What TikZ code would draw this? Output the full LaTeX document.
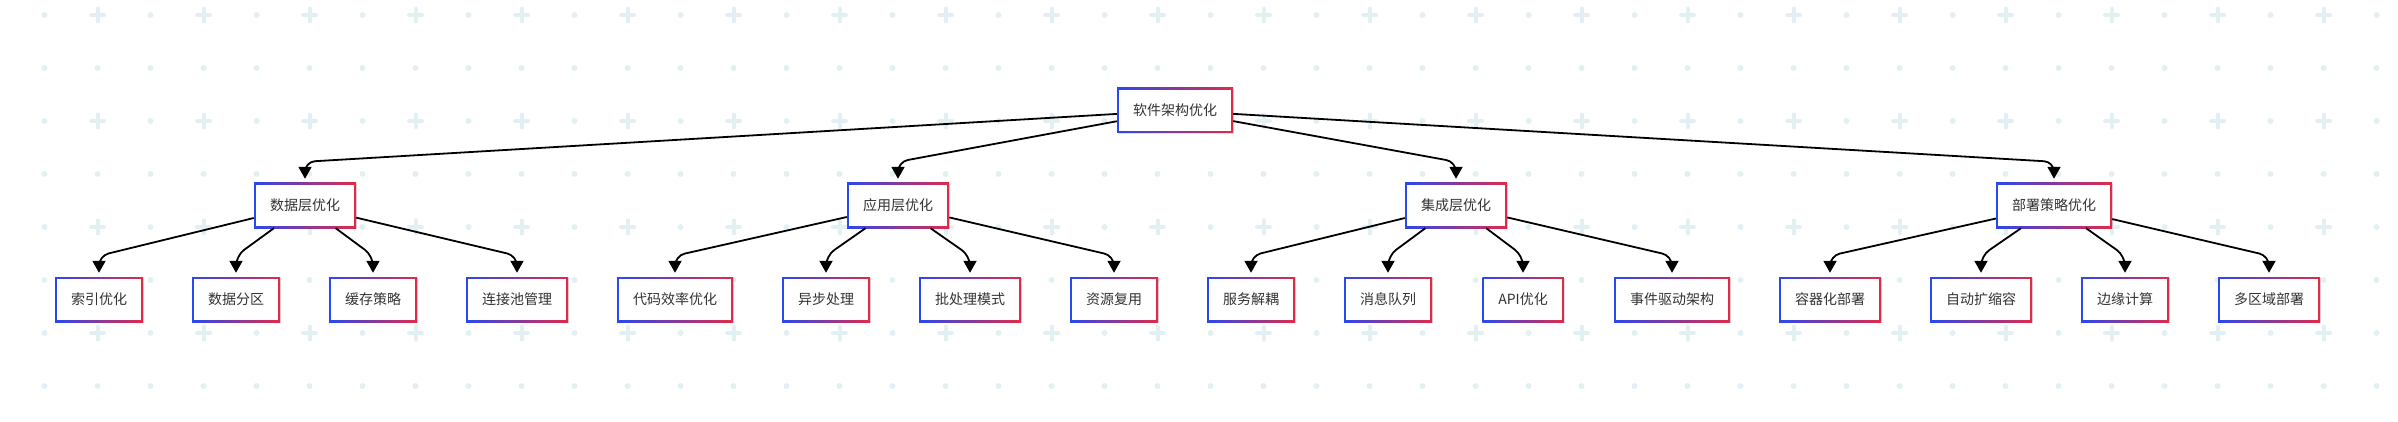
\documentclass[tikz,border=0pt]{standalone}
\usepackage{fontspec}
\setmainfont{Noto Sans CJK SC}
\usepackage{tikz}
\usetikzlibrary{arrows.meta,shadows}
\definecolor{bordL}{RGB}{40,72,240}
\definecolor{bordR}{RGB}{226,42,72}
\definecolor{bgdot}{RGB}{226,239,243}
\definecolor{txt}{RGB}{51,51,51}
\tikzset{every picture/.style={/utils/exec={\fontsize{14pt}{16pt}\selectfont}}}
\tikzset{
  optbox/.style={fill=white, text=txt, minimum height=45pt, inner xsep=16pt, inner ysep=0pt,
    drop shadow={shadow xshift=1pt, shadow yshift=-1pt, opacity=0.12, fill=black},
    path picture={
      \shade[left color=bordL, right color=bordR]
        (path picture bounding box.south west) rectangle (path picture bounding box.north east);
      \fill[white] ([shift={(2pt,2pt)}]path picture bounding box.south west)
        rectangle ([shift={(-2pt,-2pt)}]path picture bounding box.north east);
    }},
  flow/.style={line width=1.8pt, rounded corners=10pt, shorten >=4pt,
    -{Triangle[length=12pt,width=13pt]}}
}

\begin{document}
\begin{tikzpicture}[x=1pt,y=-1pt]
  \useasboundingbox (0,0) rectangle (2398,422);
  \clip (0,0) rectangle (2398,422);

  % background pattern
  \foreach \k in {-1,...,45}
    \foreach \j in {1,3,5,7}
      \fill[bgdot] (44.5+53*\k,15+53*\j) circle (3pt);
  \foreach \k in {0,2,...,44}
    \foreach \j in {0,2,4,6}
      \fill[bgdot] (44.5+53*\k,15+53*\j) circle (3pt);
  \foreach \k in {-1,1,...,45}
    \foreach \j in {0,2,4,6}
      \draw[bgdot,line width=4pt,line cap=round] (44.5+53*\k,15+53*\j)
        +(-6.5,0) -- +(6.5,0) +(0,-6.5) -- +(0,6.5);

  % root and second level
  \node[optbox] (arch) at (1175,110.5) {软件架构优化};
  \foreach \nm/\x/\txt in {data/305/数据层优化, app/898/应用层优化,
      integ/1456/集成层优化, deploy/2054/部署策略优化}
    \node[optbox] (\nm) at (\x,205.5) {\txt};

  % leaves
  \foreach \nm/\x/\txt in {index/99/索引优化, part/236/数据分区, cache/373/缓存策略,
      pool/517/连接池管理, code/675/代码效率优化, async/826/异步处理,
      batch/970/批处理模式, reuse/1114/资源复用, decouple/1251/服务解耦,
      queue/1388/消息队列, api/1523/API优化, event/1672/事件驱动架构,
      container/1830/容器化部署, scale/1981/自动扩缩容, edge/2125/边缘计算,
      region/2269/多区域部署}
    \node[optbox] (\nm) at (\x,299.5) {\txt};

  % connectors
  \foreach \p/\c in {arch/data, arch/app, arch/integ, arch/deploy,
      data/index, data/part, data/cache, data/pool,
      app/code, app/async, app/batch, app/reuse,
      integ/decouple, integ/queue, integ/api, integ/event,
      deploy/container, deploy/scale, deploy/edge, deploy/region}
    \draw[flow] (\p) -- ([yshift=21pt]\c.north) -- (\c.north);
\end{tikzpicture}
\end{document}
